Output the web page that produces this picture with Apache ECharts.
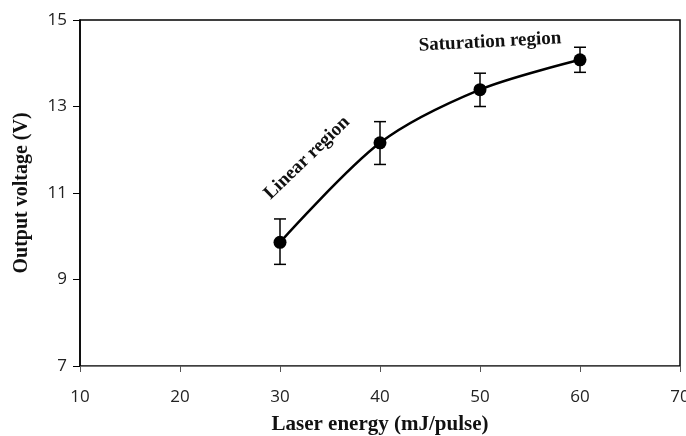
<!DOCTYPE html>
<html>
<head>
<meta charset="utf-8">
<script src="https://cdn.jsdelivr.net/npm/echarts@6/dist/echarts.min.js"></script>
<style>
  html, body { margin: 0; padding: 0; background: #fff; }
  #chart { width: 686px; height: 436px; }
</style>
</head>
<body>
<div id="chart"></div>
<script>
var energy = [30, 40, 50, 60];
var voltage = [9.86, 12.16, 13.39, 14.08];
var errLow = [9.35, 11.66, 13.0, 13.79];
var errHigh = [10.4, 12.65, 13.77, 14.37];
var xTicks = [10, 20, 30, 40, 50, 60, 70];
var yTicks = [7, 9, 11, 13, 15];

var chart = echarts.init(document.getElementById('chart'));

var points = energy.map(function (x, i) { return [x, voltage[i]]; });
var bars = energy.map(function (x, i) { return [x, errLow[i], errHigh[i]]; });

var tickFont = '"Open Sans", "Liberation Sans", sans-serif';
var serif = '"Liberation Serif", "DejaVu Serif", serif';

chart.setOption({
    animation: false,
    grid: {
        left: 80,
        right: 6,
        top: 20,
        bottom: 70,
        outerBoundsMode: 'none',
        containLabel: false,
        show: true,
        borderColor: '#000',
        borderWidth: 1.5
    },
    xAxis: {
        type: 'value',
        min: xTicks[0],
        max: xTicks[xTicks.length - 1],
        interval: 10,
        name: 'Laser energy (mJ/pulse)',
        nameLocation: 'middle',
        nameGap: 48,
        nameTextStyle: { fontFamily: serif, fontWeight: 'bold', fontSize: 21, color: '#111' },
        axisLine: { show: true, lineStyle: { color: '#777', width: 1 } },
        axisTick: { show: true, inside: false, length: 6, lineStyle: { color: '#555' } },
        axisLabel: { fontFamily: tickFont, fontSize: 17, color: '#222', margin: 23 },
        splitLine: { show: false }
    },
    yAxis: {
        type: 'value',
        min: yTicks[0],
        max: yTicks[yTicks.length - 1],
        interval: 2,
        name: 'Output voltage (V)',
        nameLocation: 'middle',
        nameGap: 48,
        nameTextStyle: { fontFamily: serif, fontWeight: 'bold', fontSize: 20, color: '#111' },
        axisLine: { show: true, lineStyle: { color: '#000', width: 1.5 } },
        axisTick: { show: true, inside: false, length: 7, lineStyle: { color: '#000' } },
        axisLabel: { fontFamily: tickFont, fontSize: 17, color: '#222', margin: 13 },
        splitLine: { show: false }
    },
    series: [
        {
            type: 'line',
            data: points,
            smooth: 0.3,
            symbol: 'circle',
            symbolSize: 13,
            lineStyle: { color: '#000', width: 2.5 },
            itemStyle: { color: '#000' },
            z: 3
        },
        {
            type: 'custom',
            data: bars,
            renderItem: function (params, api) {
                var x = api.value(0);
                var lo = api.coord([x, api.value(1)]);
                var hi = api.coord([x, api.value(2)]);
                var w = 6;
                var style = { stroke: '#000', lineWidth: 1.5 };
                return {
                    type: 'group',
                    children: [
                        { type: 'line', shape: { x1: lo[0], y1: lo[1], x2: hi[0], y2: hi[1] }, style: style },
                        { type: 'line', shape: { x1: lo[0] - w, y1: lo[1], x2: lo[0] + w, y2: lo[1] }, style: style },
                        { type: 'line', shape: { x1: hi[0] - w, y1: hi[1], x2: hi[0] + w, y2: hi[1] }, style: style }
                    ]
                };
            },
            z: 2
        }
    ],
    graphic: [
        {
            type: 'text',
            x: 307, y: 158,
            rotation: 44 * Math.PI / 180,
            style: {
                text: 'Linear region',
                font: 'bold 19px ' + serif,
                fill: '#111',
                align: 'center',
                verticalAlign: 'middle'
            }
        },
        {
            type: 'text',
            x: 490, y: 42,
            rotation: 3 * Math.PI / 180,
            style: {
                text: 'Saturation region',
                font: 'bold 19px ' + serif,
                fill: '#111',
                align: 'center',
                verticalAlign: 'middle'
            }
        }
    ]
});
</script>
</body>
</html>
